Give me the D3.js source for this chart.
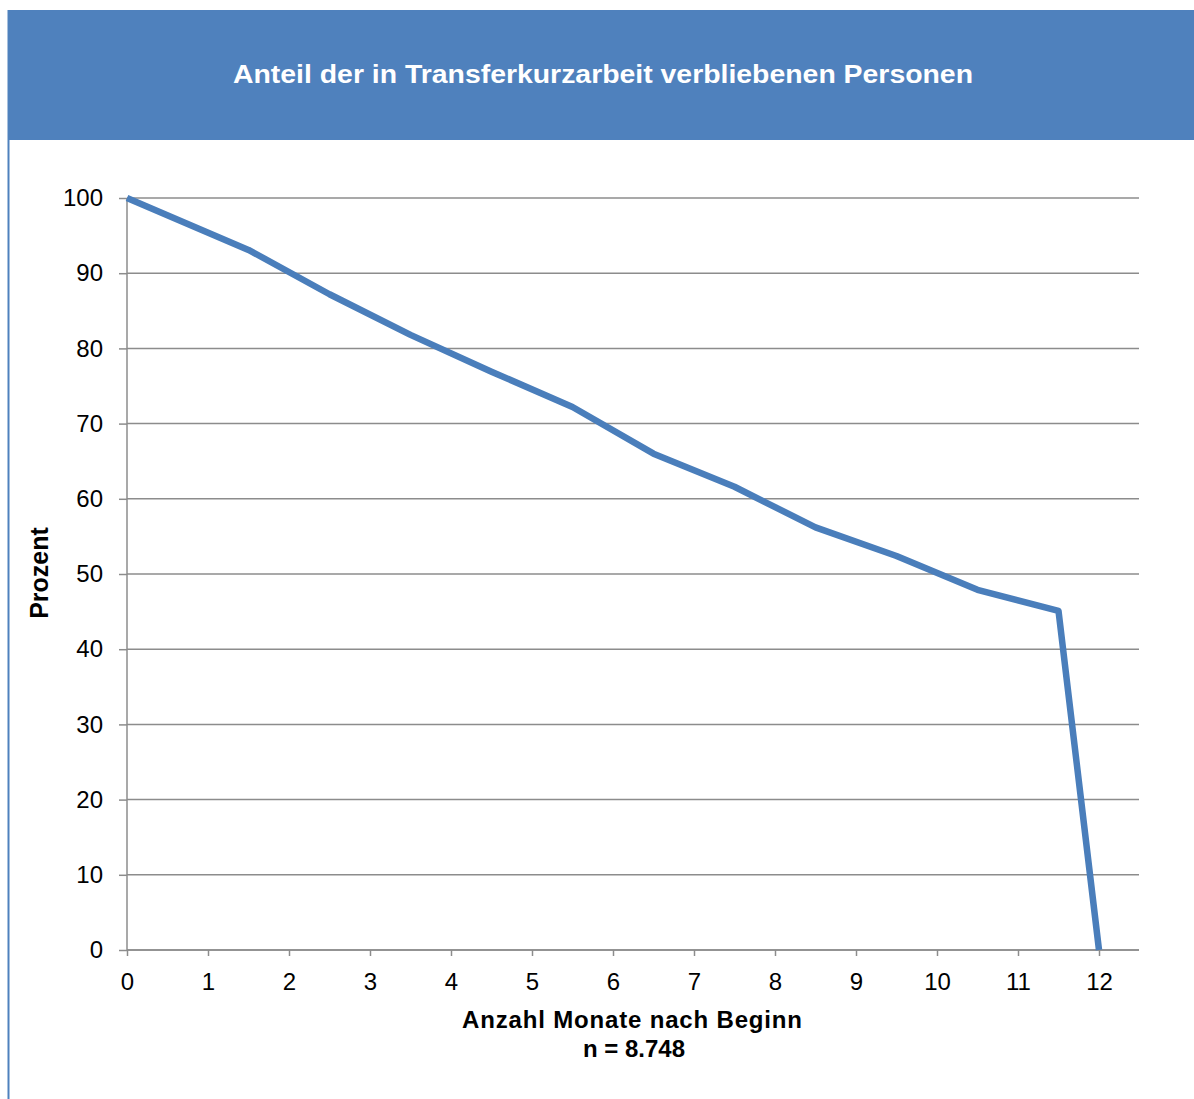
<!DOCTYPE html>
<html>
<head>
<meta charset="utf-8">
<script src="https://cdn.jsdelivr.net/npm/d3@7/dist/d3.min.js"></script>
<style>
  html, body { margin: 0; padding: 0; background: #fff; }
  svg { display: block; font-family: "Liberation Sans", Arial, sans-serif; }
</style>
</head>
<body>
<svg id="chart" width="1194" height="1099"></svg>
<script>
// Share of persons still in Transferkurzarbeit, by months since start
const months   = [0, 1.5, 2.5, 3.5, 4.5, 5.5, 6.5, 7.5, 8.5, 9.5, 10.5, 11.5, 12];
const percent  = [100, 93.1, 87.2, 81.8, 76.9, 72.2, 66.0, 61.6, 56.2, 52.4, 47.9, 45.1, 0];
const xTicks   = [0, 1, 2, 3, 4, 5, 6, 7, 8, 9, 10, 11, 12];
const yTicks   = [0, 10, 20, 30, 40, 50, 60, 70, 80, 90, 100];

const titleText  = "Anteil der in Transferkurzarbeit verbliebenen Personen";
const xTitle     = "Anzahl Monate nach Beginn";
const xSubtitle  = "n = 8.748";
const yTitle     = "Prozent";

const FONT = "'Liberation Sans', Arial, sans-serif";
const svg = d3.select("#chart");
const W = 1194, H = 1099;

// frame: header banner and thin left rule
svg.append("rect").attr("x", 8).attr("y", 10).attr("width", W - 8).attr("height", 130)
  .attr("fill", "#4F81BD");
svg.append("line").attr("x1", 8.5).attr("x2", 8.5).attr("y1", 10).attr("y2", H)
  .attr("stroke", "#4F81BD").attr("stroke-width", 2);

svg.append("text")
  .attr("x", 603).attr("y", 83)
  .attr("text-anchor", "middle")
  .attr("fill", "#fff")
  .attr("font-family", FONT)
  .attr("font-weight", "bold")
  .attr("font-size", 25)
  .attr("textLength", 740)
  .attr("lengthAdjust", "spacingAndGlyphs")
  .text(titleText);

// plot area
const x = d3.scaleLinear().domain([0, 12]).range([127, 1099]);
const y = d3.scaleLinear().domain([0, 100]).range([950, 198]);
const xEnd = 1139;

const g = svg.append("g");

// horizontal gridlines
g.selectAll("line.grid").data(yTicks).join("line")
  .attr("class", "grid")
  .attr("x1", x(0)).attr("x2", xEnd)
  .attr("y1", d => y(d)).attr("y2", d => y(d))
  .attr("stroke", "#8c8c8c").attr("stroke-width", 1.5);

// y axis
const yAxis = d3.axisLeft(y).tickValues(yTicks).tickSize(8).tickPadding(16);
const ya = g.append("g").attr("transform", `translate(${x(0)},0)`).call(yAxis);
ya.attr("font-family", FONT);
ya.select(".domain").attr("stroke", "#8c8c8c").attr("stroke-width", 1.5)
  .attr("d", `M0,${y(0)}V${y(100)}`);
ya.selectAll(".tick line").attr("stroke", "#8c8c8c").attr("stroke-width", 1.5);
ya.selectAll(".tick text").attr("font-size", 24).attr("fill", "#000");

// x axis
const xAxis = d3.axisBottom(x).tickValues(xTicks).tickSize(6).tickPadding(17);
const xa = g.append("g").attr("transform", `translate(0,${y(0)})`).call(xAxis);
xa.attr("font-family", FONT);
xa.select(".domain").attr("stroke", "#8c8c8c").attr("stroke-width", 1.5)
  .attr("d", `M${x(0)},0H${xEnd}`);
xa.selectAll(".tick line").attr("stroke", "#8c8c8c").attr("stroke-width", 1.5);
xa.selectAll(".tick text").attr("font-size", 24).attr("fill", "#000");

// data line
const line = d3.line().x(d => x(d[0])).y(d => y(d[1]));
g.append("path")
  .datum(months.map((m, i) => [m, percent[i]]))
  .attr("d", line)
  .attr("fill", "none")
  .attr("stroke", "#4A7EBB")
  .attr("stroke-width", 6.5)
  .attr("stroke-linejoin", "round")
  .attr("stroke-linecap", "butt");

// axis titles
svg.append("text").attr("x", 632).attr("y", 1028)
  .attr("text-anchor", "middle").attr("font-family", FONT)
  .attr("font-weight", "bold").attr("font-size", 24)
  .attr("textLength", 340).attr("lengthAdjust", "spacing")
  .text(xTitle);
svg.append("text").attr("x", 634).attr("y", 1057)
  .attr("text-anchor", "middle").attr("font-family", FONT)
  .attr("font-weight", "bold").attr("font-size", 24)
  .text(xSubtitle);
svg.append("text")
  .attr("transform", "translate(48,573) rotate(-90)")
  .attr("text-anchor", "middle").attr("font-family", FONT)
  .attr("font-weight", "bold").attr("font-size", 25)
  .text(yTitle);
</script>
</body>
</html>
